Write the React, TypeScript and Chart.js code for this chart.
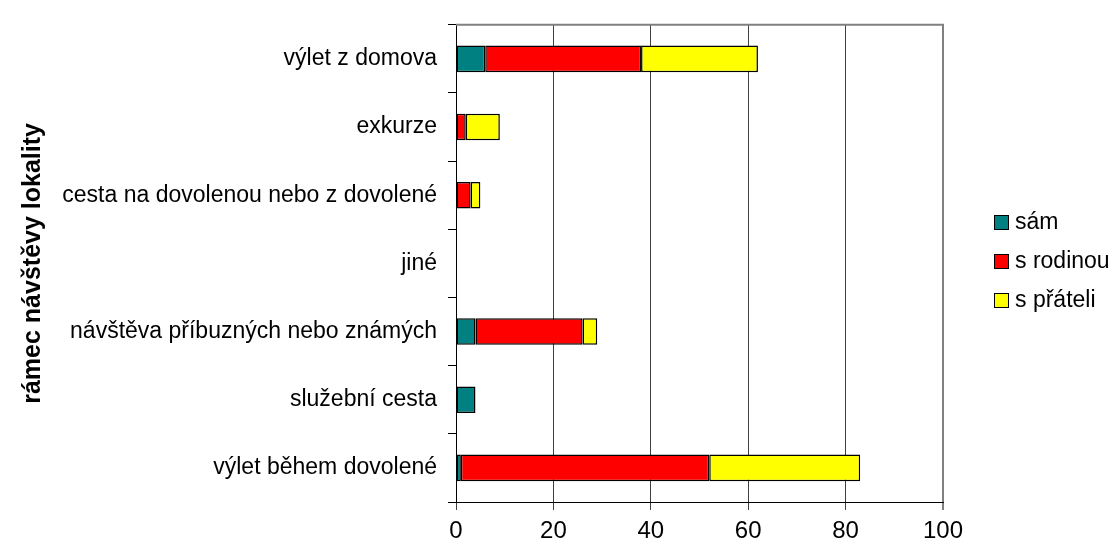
import React, { useEffect, useRef } from "react";
import { Chart, registerables } from "chart.js";

Chart.register(...registerables);

const categories = [
  "výlet z domova",
  "exkurze",
  "cesta na dovolenou nebo z dovolené",
  "jiné",
  "návštěva příbuzných nebo známých",
  "služební cesta",
  "výlet během dovolené",
];
const seriesNames = ["sám", "s rodinou", "s přáteli"];
const samValues = [6, 0, 0, 0, 4, 4, 1];
const rodinouValues = [32, 2, 3, 0, 22, 0, 51];
const prateliValues = [24, 7, 2, 0, 3, 0, 31];
const seriesColors = ["#008080", "#FF0000", "#FFFF00"];
const xMin = 0;
const xMax = 100;
const xStep = 20;
const yTitle = "rámec návštěvy lokality";

const FONT = 'Arial, "Liberation Sans", sans-serif';

const frameAndLegend = {
  id: "frameAndLegend",
  afterDraw(chart: any) {
    const { ctx, chartArea } = chart;
    ctx.save();
    ctx.strokeStyle = "#808080";
    ctx.lineWidth = 2;
    ctx.beginPath();
    ctx.moveTo(chartArea.left, chartArea.top);
    ctx.lineTo(chartArea.right, chartArea.top);
    ctx.lineTo(chartArea.right, chartArea.bottom);
    ctx.stroke();
    // legend
    const lx = chartArea.right + 51;
    const ly = 222;
    const gap = 39;
    ctx.font = "23px " + FONT;
    ctx.textBaseline = "middle";
    ctx.textAlign = "left";
    chart.data.datasets.forEach((ds: any, i: number) => {
      const y = ly + i * gap;
      ctx.fillStyle = ds.backgroundColor;
      ctx.fillRect(lx + 0.5, y - 7 + 0.5, 14, 14);
      ctx.strokeStyle = "#000";
      ctx.lineWidth = 1;
      ctx.strokeRect(lx + 0.5, y - 7 + 0.5, 14, 14);
      ctx.fillStyle = "#000";
      ctx.fillText(ds.label, lx + 21, y + 1);
    });
    ctx.restore();
  },
};

export default function App() {
  const ref = useRef<HTMLCanvasElement>(null);
  useEffect(() => {
    document.body.style.margin = "0";
    const values = [samValues, rodinouValues, prateliValues];
    const chart = new Chart(ref.current as HTMLCanvasElement, {
      type: "bar",
      data: {
        labels: categories,
        datasets: seriesNames.map((name, i) => ({
          label: name,
          data: values[i],
          backgroundColor: seriesColors[i],
          borderColor: "#000",
          borderWidth: (c: any) => (c.raw === 0 ? 0 : 1.5),
          borderSkipped: false,
          categoryPercentage: 1,
          barPercentage: 0.39,
        })),
      },
      options: {
        indexAxis: "y",
        animation: false,
        responsive: false,
        devicePixelRatio: 1,
        layout: { padding: { top: 13, right: 175, left: 0, bottom: 0 } },
        plugins: { legend: { display: false }, tooltip: { enabled: false } },
        scales: {
          x: {
            stacked: true,
            min: xMin,
            max: xMax,
            ticks: {
              stepSize: xStep,
              color: "#000",
              font: { family: FONT, size: 24 },
              padding: 7,
              maxRotation: 0,
            },
            grid: {
              color: (c: any) => (c.tick && c.tick.value === xMax ? "#808080" : "#404040"),
              lineWidth: (c: any) => (c.tick && c.tick.value === xMax ? 2 : 1),
              tickLength: 8,
              drawTicks: true,
            },
            border: { color: "#000", width: 1 },
            afterFit: (s: any) => {
              s.height = 50;
            },
          },
          y: {
            stacked: true,
            ticks: {
              color: "#000",
              font: { family: FONT, size: 23 },
              padding: 11,
            },
            grid: {
              drawOnChartArea: false,
              color: "#000",
              tickLength: 8,
              offset: true,
            },
            border: { color: "#000", width: 1 },
            title: {
              display: true,
              text: yTitle,
              color: "#000",
              font: { family: FONT, size: 25, weight: "bold" },
              padding: { top: 18, bottom: 0 },
            },
            afterFit: (s: any) => {
              s.width = 456;
            },
          },
        },
      },
      plugins: [frameAndLegend],
    } as any);
    return () => chart.destroy();
  }, []);
  return (
    <div style={{ position: "fixed", left: 0, top: 0, width: 1118, height: 552, background: "#fff" }}>
      <canvas ref={ref} width={1118} height={552} style={{ display: "block" }} />
    </div>
  );
}
